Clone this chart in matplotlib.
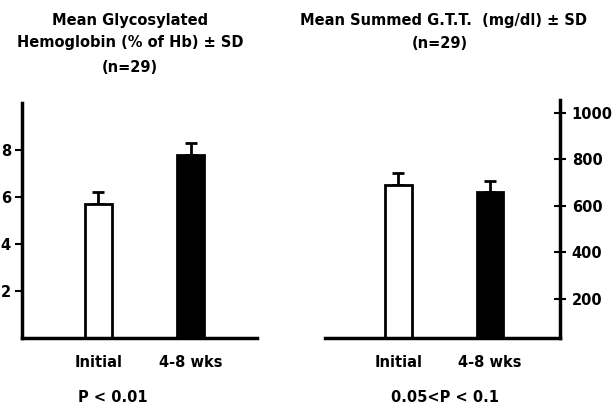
import numpy as np
import matplotlib.pyplot as plt

groups = ["Initial", "4-8 wks"]
hb_mean = [5.7, 7.8]
hb_sd = [0.5, 0.5]
gtt_mean = [690, 658]
gtt_sd = [52, 48]

plt.rcParams['font.family'] = ['DejaVu Sans']
plt.rcParams['font.weight'] = 'bold'
fs = 10.5

fig = plt.figure(figsize=(6.14, 4.08), dpi=100)
W, H = 614, 408

def px_axes(x0, x1, y_top, y_bot):
    return fig.add_axes([x0 / W, 1 - y_bot / H, (x1 - x0) / W, (y_bot - y_top) / H])

ax1 = px_axes(22, 257, 103, 338)
ax2 = px_axes(325, 560, 100, 338)

x = np.arange(len(groups))
colors = ["white", "black"]

for ax, mean, sd in [(ax1, hb_mean, hb_sd), (ax2, gtt_mean, gtt_sd)]:
    ax.bar(x, mean, width=0.29, color=colors, edgecolor="black", linewidth=2, zorder=2)
    ax.errorbar(x, mean, yerr=[np.zeros(len(sd)), sd], fmt="none", ecolor="black",
                elinewidth=2, capsize=4.5, capthick=2, zorder=1)
    ax.set_xticks(x)
    ax.set_xticklabels(groups, fontsize=fs, fontweight="bold")
    ax.tick_params(axis="x", length=0, pad=12)
    ax.spines["top"].set_visible(False)
    ax.spines["bottom"].set_linewidth(2.5)

# left panel
ax1.set_xlim(-0.83, 1.72)
ax1.set_ylim(0, 10)
ax1.set_yticks([2, 4, 6, 8])
ax1.set_yticklabels(["2", "4", "6", "8"], fontsize=fs, fontweight="bold")
ax1.spines["right"].set_visible(False)
ax1.spines["left"].set_linewidth(2.5)
ax1.tick_params(axis="y", length=5, width=1.5, pad=3)

# right panel
ax2.set_xlim(-0.80, 1.765)
ax2.set_ylim(30, 1055)
ax2.set_yticks([200, 400, 600, 800, 1000])
ax2.set_yticklabels(["200", "400", "600", "800", "1000"], fontsize=fs, fontweight="bold")
ax2.yaxis.tick_right()
ax2.spines["left"].set_visible(False)
ax2.spines["right"].set_linewidth(2.5)
ax2.tick_params(axis="y", direction="inout", length=9, width=1.5, pad=4)

# titles
for txt, xc, yc in [("Mean Glycosylated", 130, 20),
                    ("Hemoglobin (% of Hb) \u00b1 SD", 130, 43),
                    ("(n=29)", 130, 67),
                    ("Mean Summed G.T.T.  (mg/dl) \u00b1 SD", 444, 20),
                    ("(n=29)", 440, 43)]:
    fig.text(xc / W, 1 - yc / H, txt, ha="center", va="center", fontsize=fs, fontweight="bold")

fig.text(113 / W, 1 - 397 / H, "P < 0.01", ha="center", va="center", fontsize=fs, fontweight="bold")
fig.text(445 / W, 1 - 397 / H, "0.05<P < 0.1", ha="center", va="center", fontsize=fs, fontweight="bold")

fig.savefig("out.png", dpi=100)
